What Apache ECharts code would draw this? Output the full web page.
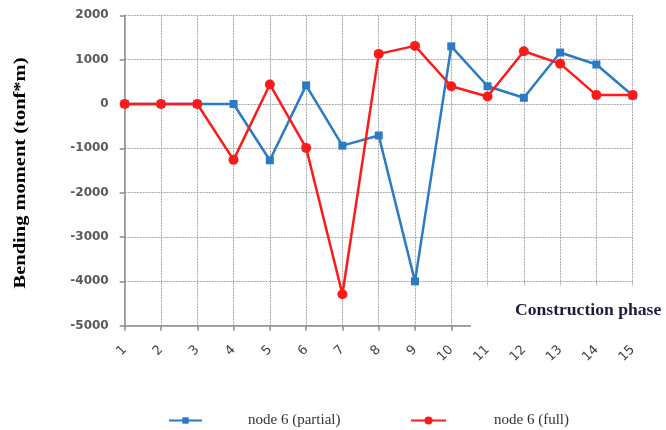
<!DOCTYPE html>
<html>
<head>
<meta charset="utf-8">
<script src="https://cdn.jsdelivr.net/npm/echarts@6/dist/echarts.min.js"></script>
<style>
  html, body { margin: 0; padding: 0; background: #fff; }
  #chart { width: 666px; height: 430px; }
</style>
</head>
<body>
<div id="chart"></div>
<script>
// Construction phases along the x axis
const phases = ['1','2','3','4','5','6','7','8','9','10','11','12','13','14','15'];
// Bending moment at node 6 (tonf*m)
const partialMoment = [0, 0, 0, 0, -1270, 420, -940, -710, -4000, 1300, 400, 140, 1160, 890, 190];
const fullMoment    = [0, 0, 0, -1260, 440, -990, -4290, 1130, 1310, 400, 170, 1190, 910, 200, 200];
const seriesNames = ['node 6 (partial)', 'node 6 (full)'];

const chart = echarts.init(document.getElementById('chart'), null, { renderer: 'canvas' });

const gridLine = { show: true, lineStyle: { color: '#a6a6a6', type: [2, 1], width: 1 } };
const axisGray = '#8c8c8c';

chart.setOption({
  animation: false,
  backgroundColor: '#fff',
  grid: { left: 124.7, right: 33.3, top: 15.3, bottom: 104.3, containLabel: false },
  legend: [
    {
      data: [seriesNames[0]], left: 168, top: 413, padding: 0,
      itemWidth: 33, itemHeight: 8,
      textStyle: { fontFamily: 'Liberation Serif', fontSize: 15, color: '#333', padding: [0, 0, 0, 41] }
    },
    {
      data: [seriesNames[1]], left: 410, top: 413, padding: 0,
      itemWidth: 35, itemHeight: 10,
      textStyle: { fontFamily: 'Liberation Serif', fontSize: 15, color: '#333', padding: [0, 0, 0, 43] }
    }
  ],
  xAxis: {
    type: 'category',
    data: phases,
    boundaryGap: false,
    axisLine: { show: true, onZero: false, lineStyle: { color: axisGray, width: 1.5 } },
    axisTick: { show: true, inside: false, length: 5, lineStyle: { color: axisGray, width: 1.5 } },
    axisLabel: { rotate: 45, margin: 22, fontFamily: 'DejaVu Sans', fontSize: 13, color: '#404040' },
    splitLine: gridLine
  },
  yAxis: {
    type: 'value',
    min: -5000, max: 2000, interval: 1000,
    axisLine: { show: true, lineStyle: { color: axisGray, width: 1.5 } },
    axisTick: { show: true, inside: false, length: 5, lineStyle: { color: axisGray, width: 1.5 } },
    axisLabel: {
      margin: 16, fontFamily: 'DejaVu Sans', fontWeight: 'bold', fontSize: 12, color: '#595959',
      formatter: v => String(v)
    },
    splitLine: gridLine
  },
  graphic: [
    // axis titles
    {
      type: 'text', x: 21, y: 173, rotation: Math.PI / 2, scaleX: 1.28, z: 100,
      style: {
        text: 'Bending moment (tonf*m)', fontFamily: 'Liberation Serif', fontWeight: 'bold',
        fontSize: 16, fill: '#000', align: 'center', verticalAlign: 'middle'
      }
    },
    {
      type: 'rect', z: 99, shape: { x: 471, y: 286, width: 200, height: 48 },
      style: { fill: '#fff' }
    },
    {
      type: 'text', x: 515, y: 311, scaleX: 1.1, z: 100,
      style: {
        text: 'Construction phase', fontFamily: 'Liberation Serif', fontWeight: 'bold',
        fontSize: 16, fill: '#1c1c38', align: 'left', verticalAlign: 'middle'
      }
    }
  ],
  series: [
    {
      name: seriesNames[0], type: 'line', data: partialMoment,
      symbol: 'rect', symbolSize: 8,
      lineStyle: { color: '#2a7ac6', width: 2.5 },
      itemStyle: { color: '#2a7ac6' },
      z: 3
    },
    {
      name: seriesNames[1], type: 'line', data: fullMoment,
      symbol: 'circle', symbolSize: 10,
      lineStyle: { color: '#ff1a1a', width: 2.5 },
      itemStyle: { color: '#ff1a1a' },
      z: 4
    }
  ]
});
</script>
</body>
</html>
